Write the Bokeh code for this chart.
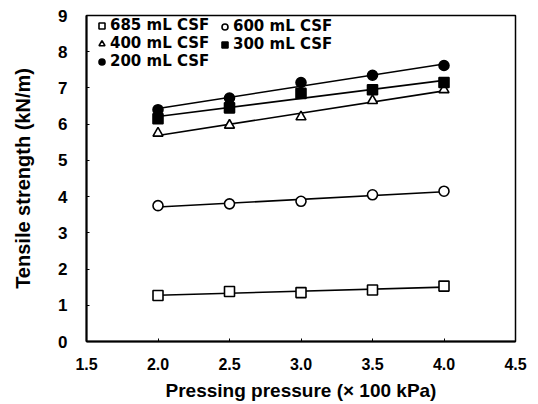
import numpy as np
from bokeh.plotting import figure
from bokeh.models import Legend, LegendItem, FixedTicker, NumeralTickFormatter, Range1d
from bokeh.embed import file_html
from bokeh.resources import INLINE

pressure = [2.0, 2.5, 3.0, 3.5, 4.0]
csf685 = [1.27, 1.38, 1.35, 1.42, 1.53]
csf600 = [3.75, 3.80, 3.87, 4.05, 4.15]
csf400 = [5.75, 5.97, 6.20, 6.65, 6.95]
csf300 = [6.15, 6.45, 6.85, 6.95, 7.15]
csf200 = [6.40, 6.72, 7.15, 7.35, 7.62]
labels = ["685 mL CSF", "600 mL CSF", "400 mL CSF", "300 mL CSF", "200 mL CSF"]
x_ticks = [1.5, 2.0, 2.5, 3.0, 3.5, 4.0, 4.5]
y_ticks = [0, 1, 2, 3, 4, 5, 6, 7, 8, 9]

p = figure(width=530, height=404, output_backend="svg", toolbar_location=None,
           x_range=Range1d(1.5, 4.5), y_range=Range1d(0, 9),
           min_border_left=86, min_border_right=15, min_border_top=15, min_border_bottom=63)
p.grid.visible = False
p.outline_line_color = "black"
p.outline_line_width = 1.5

font = "Liberation Sans"
for ax in (p.xaxis[0], p.yaxis[0]):
    ax.axis_line_width = 2
    ax.major_tick_in = 3
    ax.major_tick_out = 0
    ax.minor_tick_line_color = None
    ax.major_label_text_font = font
    ax.major_label_text_font_style = "bold"
    ax.major_label_text_font_size = "17px"
    ax.major_label_text_color = "black"
    ax.axis_label_text_font = font
    ax.axis_label_text_font_style = "bold"
    ax.axis_label_text_color = "black"
p.xaxis.axis_label_text_font_size = "19px"
p.yaxis.axis_label_text_font_size = "20px"
p.xaxis.major_label_text_font_size = "16px"
p.xaxis.ticker = FixedTicker(ticks=x_ticks)
p.xaxis.formatter = NumeralTickFormatter(format="0.0")
p.yaxis.ticker = FixedTicker(ticks=y_ticks)
p.xaxis.axis_label = "Pressing pressure (× 100 kPa)"
p.yaxis.axis_label = "Tensile strength (kN/m)"
p.xaxis.major_label_standoff = 16
p.xaxis.axis_label_standoff = 7
p.yaxis.major_label_standoff = 19
p.yaxis.axis_label_standoff = 21

series = [
    (csf685, "square", "white"),
    (csf600, "circle", "white"),
    (csf400, "triangle", "white"),
    (csf300, "square", "black"),
    (csf200, "circle", "black"),
]
xs = np.array(pressure)
items = []
for (ys, marker, fill), lab in zip(series, labels):
    k, b = np.polyfit(xs, np.array(ys), 1)
    p.line([xs[0], xs[-1]], [k * xs[0] + b, k * xs[-1] + b], line_color="black", line_width=1.6)
    r = p.scatter(pressure, ys, marker=marker, size=10, fill_color=fill,
                  line_color="black", line_width=1.6)
    items.append(LegendItem(label=lab, renderers=[r]))

common = dict(label_text_font="DejaVu Sans", label_text_font_style="bold",
              label_text_font_size="15px", label_text_color="black",
              label_height=15, glyph_height=15,
              glyph_width=15, spacing=0, padding=0, margin=0,
              border_line_color=None, background_fill_alpha=0,
              label_standoff=1, label_text_line_height=1.0)
leg1 = Legend(items=[items[0], items[2], items[4]], location=(8, 271), **common)
leg2 = Legend(items=[items[1], items[3]], location=(131, 288), **common)
p.add_layout(leg1, "center")
p.add_layout(leg2, "center")

open("out.html", "w").write(file_html(p, INLINE))
